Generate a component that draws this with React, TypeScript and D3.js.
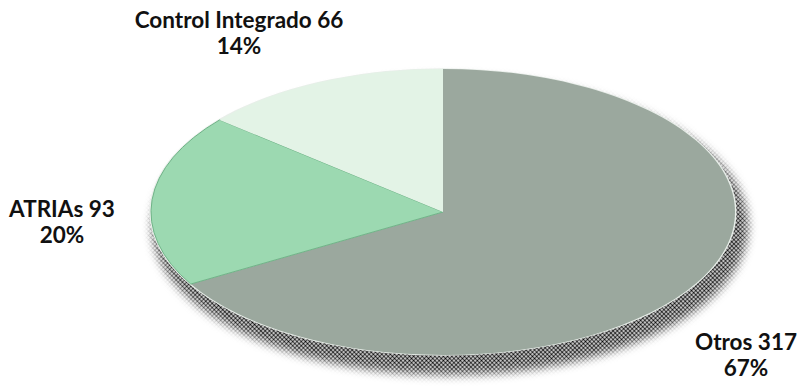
//@ts-nocheck
import React, { useRef, useEffect } from 'react'
import * as d3 from 'd3'

const categories = ['Otros', 'ATRIAs', 'Control Integrado']
const counts = [317, 93, 66]
const percents = ['67%', '20%', '14%']
const colors = ['#9ba89e', '#9cd9b1', '#e3f3e6']

// label anchors (centre x, first baseline) for each slice
const labelPos = [
  [746, 350],
  [62, 217],
  [239, 28]
]

const width = 800
const height = 388

const App = () => {
  const node = useRef(null)

  useEffect(() => {
    const svg = d3.select(node.current)
    svg.selectAll('*').remove()

    const cx = 443
    const cy = 212
    const rx = 292
    const ry = 143

    const defs = svg.append('defs')
    const pat = defs
      .append('pattern')
      .attr('id', 'dots')
      .attr('width', 3)
      .attr('height', 3)
      .attr('patternUnits', 'userSpaceOnUse')
      .attr('patternTransform', 'rotate(45)')
    pat.append('circle').attr('cx', 1.5).attr('cy', 1.5).attr('r', 1.2).attr('fill', '#000')

    const f = defs
      .append('filter')
      .attr('id', 'blur')
      .attr('x', '-20%')
      .attr('y', '-20%')
      .attr('width', '140%')
      .attr('height', '140%')
    f.append('feGaussianBlur').attr('stdDeviation', 5)

    const mask = defs.append('mask').attr('id', 'shadowMask')
    mask
      .append('ellipse')
      .attr('cx', cx + 7)
      .attr('cy', cy + 14)
      .attr('rx', rx + 6)
      .attr('ry', ry + 6)
      .attr('fill', 'white')
      .attr('filter', 'url(#blur)')

    svg
      .append('rect')
      .attr('width', width)
      .attr('height', height)
      .attr('fill', 'url(#dots)')
      .attr('mask', 'url(#shadowMask)')

    const pie = d3
      .pie()
      .sort(null)
      .value((d) => d)
    const arcs = pie(counts)
    const arc = d3.arc().innerRadius(0).outerRadius(rx)

    const g = svg.append('g').attr('transform', `translate(${cx},${cy}) scale(1,${ry / rx})`)
    g.append('ellipse')
      .attr('rx', rx + 1.5)
      .attr('ry', rx + 1.5)
      .attr('fill', '#e8eee9')
    g.selectAll('path.slice')
      .data(arcs)
      .join('path')
      .attr('class', 'slice')
      .attr('d', arc)
      .attr('fill', (d, i) => colors[i])
      .attr('stroke', (d, i) => (i === 1 ? '#6fb387' : 'none'))
      .attr('stroke-width', 1)
      .attr('vector-effect', 'non-scaling-stroke')

    const labels = svg
      .append('g')
      .attr('font-family', 'Lato, sans-serif')
      .attr('font-size', 22.5)
      .attr('font-weight', 'bold')
      .attr('fill', '#111')
      .attr('text-anchor', 'middle')

    categories.forEach((c, i) => {
      const t = labels.append('text').attr('x', labelPos[i][0]).attr('y', labelPos[i][1])
      t.append('tspan').attr('x', labelPos[i][0]).text(`${c} ${counts[i]}`)
      t.append('tspan').attr('x', labelPos[i][0]).attr('dy', 26).text(percents[i])
    })
  }, [])

  return (
    <svg
      ref={node}
      width={width}
      height={height}
      style={{ position: 'absolute', left: 0, top: 0, background: '#fff' }}
    ></svg>
  )
}

export default App
